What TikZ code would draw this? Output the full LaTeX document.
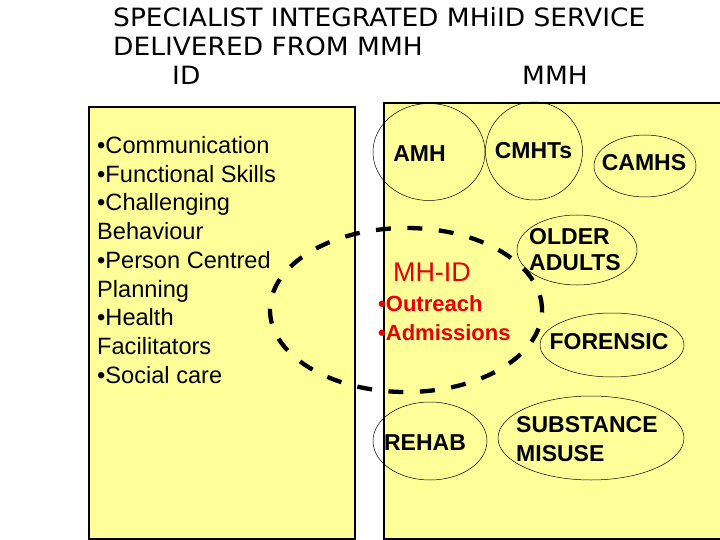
\documentclass[tikz,border=0pt]{standalone}
\usepackage{fontspec}
\setmainfont{Liberation Sans}
\newfontfamily\titlefont[FakeStretch=1.05]{DejaVu Sans}
\usetikzlibrary{shapes.geometric}
\definecolor{boxfill}{RGB}{255,255,153}
\definecolor{mhred}{RGB}{230,0,0}
\begin{document}
\begin{tikzpicture}[x=1pt,y=-1pt,
  panel/.style={draw=black, line width=1.5pt, fill=boxfill},
  oval/.style={draw=black, line width=0.5pt, ellipse, inner sep=0pt},
  svc/.style={font=\fontsize{23}{26}\selectfont\bfseries, inner sep=0pt},
  idtext/.style={font=\fontsize{23.6}{28}\selectfont, inner sep=0pt, anchor=base west},
  redtext/.style={font=\fontsize{22}{26}\selectfont\bfseries, text=mhred, inner sep=0pt, anchor=base west},
  ttl/.style={font=\titlefont\fontsize{25.2}{29}\selectfont, inner sep=0pt, anchor=base west},
  dashring/.style={draw=black, line width=4.3pt, ellipse, dash pattern=on 15pt off 16.5pt, inner sep=0pt}
]
\useasboundingbox (0,0) rectangle (720,540);
\fill[white] (0,0) rectangle (720,540);

% title
\node[ttl] (t1) at (113,27) {SPECIALIST INTEGRATED MHiID SERVICE};
\node[ttl] (t2) at (113,56) {DELIVERED FROM MMH};
\node[ttl] (t3) at (172,85) {ID};
\node[ttl] (t4) at (522,85) {MMH};

% panels
\draw[panel] (89,107) rectangle (355,539);
\draw[panel] (384,103) rectangle (725,539);

% left list
\foreach \t [count=\i] in {{•Communication},{•Functional Skills},{•Challenging},{Behaviour},{•Person Centred},{Planning},{•Health},{Facilitators},{•Social care}}
  \node[idtext] (l\i) at (97,{153.3+28.75*(\i-1)}) {\t};

% service ovals
\node[oval, minimum width=112pt, minimum height=97pt] (amhE) at (429,152) {};
\node[oval, minimum width=97pt, minimum height=98pt] (cmhtE) at (534,151) {};
\node[oval, minimum width=102pt, minimum height=62pt] (camhsE) at (645,166) {};
\node[oval, minimum width=120pt, minimum height=70pt] (olderE) at (577,250) {};
\node[oval, minimum width=144pt, minimum height=64pt] (forE) at (612,345) {};
\node[oval, minimum width=114pt, minimum height=78pt] (rehabE) at (430,441) {};
\node[oval, minimum width=186pt, minimum height=84pt] (subE) at (591,438) {};

% dashed MH-ID ring
\node[dashring, minimum width=272pt, minimum height=164pt] (mhE) at (406,310) {};

% labels
\node[svc] (amh) at (419.5,154) {AMH};
\node[svc] (cmht) at (533.5,151) {CMHTs};
\node[svc] (camhs) at (644,162.5) {CAMHS};
\node[svc, anchor=base west] (older1) at (529,244) {OLDER};
\node[svc, anchor=base west] (older2) at (529,270) {ADULTS};
\node[svc] (forensic) at (609,342) {FORENSIC};
\node[svc] (rehab) at (425,443) {REHAB};
\node[svc, anchor=base west] (sub1) at (516,432) {SUBSTANCE};
\node[svc, anchor=base west] (sub2) at (516,461) {MISUSE};

\node[font=\fontsize{27}{30}\selectfont, text=mhred, inner sep=0pt] (mhid) at (432,272.5) {MH-ID};
\node[redtext] (out) at (378,311) {•Outreach};
\node[redtext] (adm) at (378,340) {•Admissions};
\end{tikzpicture}
\end{document}
